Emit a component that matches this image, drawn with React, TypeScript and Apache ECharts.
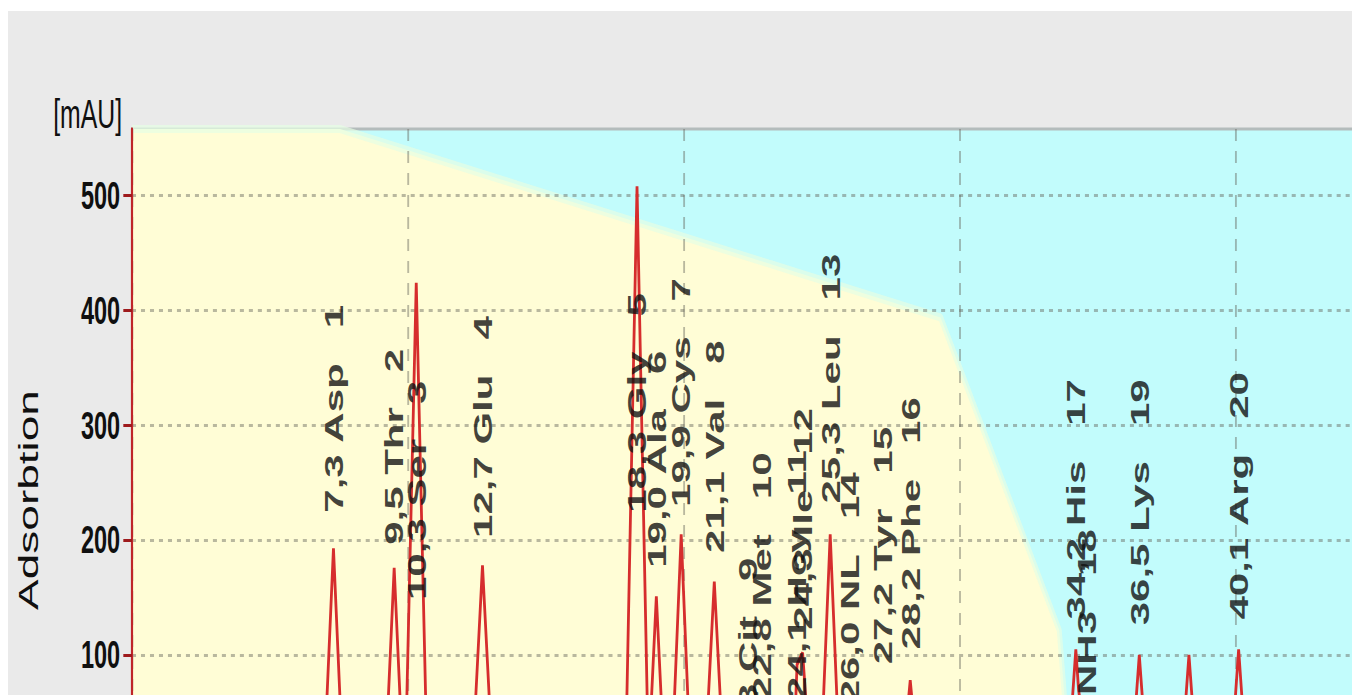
import React, { useEffect, useRef } from "react";
import * as echarts from "echarts";

// Amino acid peaks: retention time (min), name, height (mAU), half-width at base (min)
const peakTimes = [7.3, 9.5, 10.3, 12.7, 18.3, 19.0, 19.9, 21.1, 22.3, 22.8, 24.1, 24.3, 25.3, 26.0, 27.2, 28.2, 34.2, 34.6, 36.5, 40.1];
const peakNames = ["Asp", "Thr", "Ser", "Glu", "Gly", "Ala", "Cys", "Val", "Cit", "Met", "Hcy", "Ile", "Leu", "NL", "Tyr", "Phe", "His", "NH3", "Lys", "Arg"];
const peakHeights = [193, 176, 424, 178, 508, 151, 205, 164, 40, 55, 58, 102, 205, 50, 55, 78, 105, 50, 100, 105];
const peakHalfWidths = [0.35, 0.33, 0.4, 0.38, 0.42, 0.3, 0.35, 0.35, 0.3, 0.3, 0.2, 0.3, 0.35, 0.3, 0.3, 0.3, 0.3, 0.3, 0.3, 0.3];
// Level (mAU) at which each rotated peak annotation begins
const labelLevels = [224, 196, 148, 202, 224, 176, 229, 189, 4, 61, 61, 122, 232, 58, 92, 105, 131, -16, 126, 131];

// Peaks without annotation
const extraTimes = [38.3];
const extraHeights = [100];
const extraHalfWidths = [0.3];

// Eluent gradient (%), drawn as the shaded area
const gradientTimes = [0, 7.54, 29.3, 33.6, 34.0, 45];
const gradientPct = [100, 100, 70.6, 21.8, 0, 0];

// Axis ranges and ticks
const X_MIN = 0;
const X_MAX = 45;
const X_STEP = 10;
const Y_MIN = 0;
const Y_MAX = 558;
const Y_STEP = 100;
const yTickValues = [0, 100, 200, 300, 400, 500];
const yLabelValues = [100, 200, 300, 400, 500];

const SX = 0.62;
const CHART_W = 2240;
const CHART_H = 830;
const FONT = "'Liberation Sans', Arial, sans-serif";
const INK = "#101010";

// Chromatogram trace: each peak is a triangle over the baseline, summed at the breakpoints
function buildTrace(): number[][] {
  const times = [...peakTimes, ...extraTimes];
  const heights = [...peakHeights, ...extraHeights];
  const widths = [...peakHalfWidths, ...extraHalfWidths];
  const pts = new Set<number>([X_MIN, X_MAX]);
  times.forEach((t, i) => {
    pts.add(+(t - widths[i]).toFixed(4));
    pts.add(t);
    pts.add(+(t + widths[i]).toFixed(4));
  });
  const sorted = Array.from(pts).sort((a, b) => a - b);
  return sorted.map((x) => {
    let v = 0;
    times.forEach((t, i) => {
      const d = Math.abs(x - t) / widths[i];
      if (d < 1) v += heights[i] * (1 - d);
    });
    return [x, +v.toFixed(2)];
  });
}

const NB = "\u00a0";
const labelTexts = peakTimes.map(
  (t, i) => `${t.toFixed(1).replace(".", ",")}${NB}${peakNames[i]}${NB}${NB}${NB}${i + 1}`
);

export default function App() {
  const ref = useRef<HTMLDivElement>(null);

  useEffect(() => {
    if (!ref.current) return;
    const chart = echarts.init(ref.current, null, { renderer: "svg" });
    const gridLine = "rgba(100,100,90,0.45)";

    chart.setOption({
      animation: false,
      backgroundColor: "#eaeaea",
      grid: {
        show: true,
        left: 200,
        top: 118,
        right: 37,
        bottom: 71,
        backgroundColor: "#c2fcfc",
        borderColor: "#b4bcbc",
        borderWidth: 3,
      },
      xAxis: {
        type: "value",
        min: X_MIN,
        max: X_MAX,
        interval: X_STEP,
        z: 3,
        axisLine: { lineStyle: { color: "#888", width: 2 } },
        axisTick: { lineStyle: { color: "#888", width: 2 } },
        axisLabel: { show: false },
        splitLine: { show: true, lineStyle: { color: gridLine, width: 3, type: [12, 10] } },
      },
      yAxis: [
        {
          type: "value",
          min: Y_MIN,
          max: Y_MAX,
          interval: Y_STEP,
          z: 3,
          axisLine: { show: true, lineStyle: { color: "#bf2529", width: 3.5 } },
          axisTick: {
            show: true,
            length: 14,
            customValues: yTickValues,
            lineStyle: { color: "#9e1a1d", width: 3 },
          },
          axisLabel: {
            margin: 19,
            fontSize: 38,
            fontWeight: "bold",
            color: INK,
            fontFamily: FONT,
            customValues: yLabelValues,
          },
          splitLine: { show: true, lineStyle: { color: gridLine, width: 3, type: [6.5, 8] } },
        },
        { type: "value", min: 0, max: 100, show: false },
      ],
      graphic: [
        {
          type: "text",
          x: 184,
          y: 103,
          style: {
            text: "[mAU]",
            fontSize: 40,
            fontFamily: FONT,
            fill: INK,
            align: "right",
            verticalAlign: "middle",
          },
        },
        {
          type: "text",
          x: 32,
          y: 489,
          rotation: Math.PI / 2,
          style: {
            text: "Adsorbtion",
            fontSize: 46,
            fontFamily: FONT,
            fill: INK,
            align: "center",
            verticalAlign: "middle",
          },
        },
      ],
      series: [
        {
          name: "Gradient",
          type: "line",
          yAxisIndex: 1,
          z: 1,
          silent: true,
          symbol: "none",
          data: gradientTimes.map((t, i) => [t, gradientPct[i]]),
          lineStyle: { width: 8, color: "#e6fde4", opacity: 0.7 },
          areaStyle: { color: "#fffdd6", opacity: 1 },
        },
        {
          name: "Signal",
          type: "line",
          z: 4,
          symbol: "none",
          data: buildTrace(),
          lineStyle: { color: "#d62d2d", width: 4.5 },
        },
        {
          name: "Peaks",
          type: "scatter",
          z: 5,
          clip: false,
          symbolSize: 1,
          itemStyle: { color: "rgba(0,0,0,0)" },
          data: peakTimes.map((t, i) => [t, labelLevels[i]]),
          label: {
            show: true,
            position: "inside",
            rotate: 90,
            align: "left",
            verticalAlign: "middle",
            fontSize: 42,
            fontWeight: "bold",
            fontFamily: FONT,
            color: INK,
            formatter: (p: any) => labelTexts[p.dataIndex],
          },
        },
      ],
    });

    return () => chart.dispose();
  }, []);

  return (
    <div
      style={{
        position: "fixed",
        left: 8,
        top: 11,
        width: 1344,
        height: 684,
        overflow: "hidden",
        background: "#eaeaea",
      }}
    >
      <div
        ref={ref}
        style={{
          width: CHART_W,
          height: CHART_H,
          transform: `scale(${SX}, 1)`,
          transformOrigin: "0 0",
        }}
      />
    </div>
  );
}
